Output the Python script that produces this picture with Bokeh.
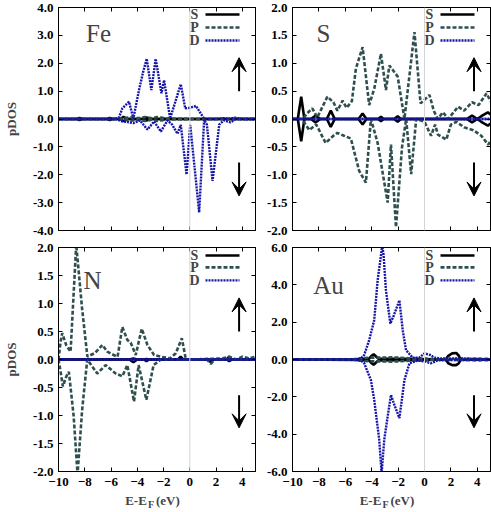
from bokeh.plotting import figure
from bokeh.layouts import gridplot
from bokeh.models import (Range1d, LinearAxis, FixedTicker, PrintfTickFormatter,
                          Span, Label, Arrow, VeeHead)
from bokeh.embed import file_html
from bokeh.resources import INLINE

FONT = "Liberation Serif"
C_S, C_P, C_D = "#000000", "#2f4f4f", "#1414a8"
X_MIN, X_MAX = -10, 5
E_TICKS = [-10, -8, -6, -4, -2, 0, 2, 4]
X_LABEL_MAIN = "E-E\u2002\u2009(eV)\u2002\u2009"
X_LABEL_SUB = "F\u2003\u2009"

# ---------------- Fe ----------------
fe_yticks = [-4, -3, -2, -1, 0, 1, 2, 3, 4]
fe_s_e = [-10, -8.6, -8.4, -8.2, -6.3, -6.1, -5.9, -5.3, -5.05, -4.8, -3.5, -3.3, -3.1, -2.3, -2.1, -1.9, 5.0]
fe_s_up = [0, 0, 0.04, 0, 0, 0.04, 0, 0, 0.08, 0, 0, 0.06, 0, 0, 0.04, 0, 0]
fe_s_dn = [0, 0, -0.04, 0, 0, -0.04, 0, 0, -0.08, 0, 0, -0.06, 0, 0, -0.04, 0, 0]
fe_p_e = [-10, -5.5, -5.0, -4.5, -3.9, -3.4, -2.9, -2.5, -2.1, -1.6, -1.0, 0.0, 5.0]
fe_p_up = [0, 0, 0.03, 0.06, 0.03, 0.07, 0.03, 0.07, 0.04, 0.02, 0.01, 0.0, 0.0]
fe_p_dn = [0, 0, -0.03, -0.06, -0.03, -0.07, -0.03, -0.07, -0.04, -0.02, -0.01, 0.0, 0.0]
fe_d_up_e = [-10, -5.7, -5.4, -5.14, -4.63, -4.3, -3.87, -3.55, -3.28, -2.93, -2.6, -2.16, -1.96,
             -1.5, -0.69, -0.35, 0.0, 0.46, 1.1, 2.0, 2.6, 3.0, 3.4, 4.0, 5.0]
fe_d_up = [0, 0, 0.05, 0.38, 0.62, 0.02, 1.04, 1.7, 2.16, 1.04, 2.16, 0.92, 1.39,
           0.02, 1.25, 0.38, 0.4, 0.47, 0.0, 0.0, 0.03, 0.0, 0.05, 0.0, 0.0]
fe_d_dn_e = [-10, -5.6, -5.2, -4.8, -4.3, -3.8, -3.23, -2.72, -2.21, -1.7, -1.35, -0.94, -0.69,
             -0.25, 0.03, 0.71, 1.09, 1.3, 1.73, 2.24, 2.6, 3.1, 3.5, 5.0]
fe_d_dn = [0, 0, -0.08, -0.1, -0.15, -0.05, -0.38, -0.09, -0.45, -0.05, -0.2, -0.53, -0.21,
           -1.99, -0.21, -3.35, -0.03, -0.2, -2.22, -0.2, -0.05, -0.12, 0.0, 0.0]

# ---------------- S ----------------
s_yticks = [-2, -1.5, -1, -0.5, 0, 0.5, 1, 1.5, 2]
s_s_e = [-10, -9.6, -9.34, -9.1, -8.6, -8.25, -7.9, -7.4, -7.1, -6.8, -5.0, -4.69, -4.4,
         -3.5, -3.3, -3.1, -2.3, -2.03, -1.8, 3.2, 3.6, 4.0, 4.3, 4.8, 5.0]
s_s_up = [0, 0, 0.4, 0, 0, 0.06, 0, 0, 0.15, 0, 0, 0.1, 0, 0, 0.04, 0, 0, 0.05, 0, 0, 0.06, 0, 0.05, 0.12, 0.08]
s_s_dn = [0, 0, -0.4, 0, 0, -0.06, 0, 0, -0.14, 0, 0, -0.1, 0, 0, -0.04, 0, 0, -0.05, 0, 0, -0.06, 0, -0.05, -0.12, -0.08]
s_p_up_e = [-10, -9.2, -8.9, -8.5, -8.12, -7.36, -6.9, -6.6, -6.2, -5.9, -5.5, -5.2, -4.69, -4.19,
            -3.8, -3.3, -2.92, -2.66, -2.03, -1.52, -0.76, -0.3, 0.38, 0.7, 1.0, 1.4, 1.8, 2.54,
            3.0, 3.6, 4.1, 4.7, 5.0]
s_p_up = [0, 0, 0.1, 0.19, 0.03, 0.4, 0.3, 0.15, 0.33, 0.2, 0.32, 0.9, 1.29, 0.25,
          0.55, 1.17, 0.52, 0.96, 0.76, 0.0, 1.56, 0.28, 0.43, 0.15, 0.0, 0.12, 0.0, 0.22,
          0.15, 0.3, 0.25, 0.46, 0.32]
s_p_dn_e = [-10, -9.3, -9.0, -8.73, -8.2, -7.49, -6.9, -6.6, -6.1, -5.58, -4.95, -4.44, -4.06,
            -3.55, -2.79, -2.54, -2.16, -1.7, -1.39, -1.01, -0.63, 0.0, 0.5, 0.8, 1.02, 1.65,
            2.0, 2.42, 3.0, 3.7, 4.3, 4.83, 5.0]
s_p_dn = [0, 0, -0.1, -0.2, -0.1, -0.43, -0.3, -0.25, -0.3, -0.35, -0.93, -1.14, 0.0,
          -0.43, -1.5, -0.46, -1.94, -0.5, 0.0, -0.99, 0.0, -0.05, -0.3, -0.1, -0.28, -0.37,
          -0.1, -0.05, -0.15, -0.2, -0.3, -0.46, -0.4]
s_d_e = [-10, 5.0]
s_d_up = [0, 0]
s_d_dn = [0, 0]

# ---------------- N ----------------
n_yticks = [-2, -1.5, -1, -0.5, 0, 0.5, 1, 1.5, 2]
n_s_e = [-10, -4.6, -4.3, -4.0, -3.5, -3.3, -3.1, -0.9, -0.7, -0.5, 1.4, 1.6, 1.8, 2.8, 3.0, 3.2, 5.0]
n_s_up = [0, 0, 0.02, 0, 0, 0.01, 0, 0, 0.05, 0, 0, 0.0, 0, 0, 0.05, 0, 0]
n_s_dn = [0, 0, -0.05, 0, 0, -0.03, 0, 0, 0.0, 0, 0, -0.05, 0, 0, -0.03, 0, 0]
n_p_up_e = [-10, -9.85, -9.72, -9.4, -9.08, -8.65, -8.2, -7.8, -7.2, -6.66, -6.28, -5.8, -5.5,
            -5.14, -4.76, -4.5, -4.12, -3.66, -3.23, -2.72, -2.2, -1.5, -1.07, -0.61, -0.3,
            0.2, 2.5, 3.0, 3.5, 4.0, 4.5, 5.0]
n_p_up = [0, 0.3, 0.47, 0.25, 0.14, 2.05, 0.9, 0.05, 0.12, 0.26, 0.14, 0.08, 0.05,
          0.58, 0.35, 0.3, 0.08, 0.55, 0.26, 0.08, 0.05, 0.02, 0.11, 0.38, 0.0,
          0.0, 0.02, 0.05, 0.0, 0.05, 0.02, 0.05]
n_p_dn_e = [-10, -9.85, -9.67, -9.4, -9.21, -8.85, -8.55, -8.2, -7.81, -7.05, -6.41, -5.65,
            -5.14, -4.76, -4.25, -3.9, -3.31, -2.76, -2.2, 1.3, 1.6, 1.9, 5.0]
n_p_dn = [0, -0.2, -0.48, -0.3, -0.22, -1.0, -2.05, -0.9, 0.0, -0.25, -0.1, -0.25,
          -0.3, -0.1, -0.75, -0.1, -0.72, -0.1, 0.0, 0.0, -0.08, 0.0, 0.0]
n_d_e = [-10, 5.0]
n_d_up = [0, 0]
n_d_dn = [0, 0]

# ---------------- Au ----------------
au_yticks = [-6, -4, -2, 0, 2, 4, 6]
au_s_e = [-10, -5.0, -4.2, -4.0, -3.85, -3.65, -3.5, -0.5, 1.6, 1.8, 2.1, 2.4, 2.6, 2.75, 5.0]
au_s_up = [0, 0.02, 0.05, 0.2, 0.28, 0.15, 0.05, 0.03, 0.0, 0.2, 0.33, 0.35, 0.2, 0.0, 0.0]
au_s_dn = [0, -0.02, -0.05, -0.2, -0.28, -0.15, -0.05, -0.03, 0.0, -0.2, -0.3, -0.3, -0.2, 0.0, 0.0]
au_p_e = [-10, -5.5, -5.0, -4.5, -4.0, -3.5, -3.0, -2.5, -2.0, -1.5, -1.0, -0.5, 0.0, 0.5, 1.0, 3.0, 4.0, 5.0]
au_p_up = [0, 0, 0.05, 0.08, 0.1, 0.1, 0.1, 0.12, 0.1, 0.08, 0.05, 0.05, 0.05, 0.03, 0.0, 0.03, 0.05, 0.03]
au_p_dn = [0, 0, -0.05, -0.08, -0.1, -0.1, -0.1, -0.12, -0.1, -0.08, -0.05, -0.05, -0.05, -0.03, 0.0, -0.03, -0.05, -0.03]
au_d_up_e = [-10, -5.5, -4.82, -4.57, -4.19, -3.81, -3.55, -3.2, -3.1, -2.92, -2.59, -2.36, -1.9,
             -1.65, -1.4, -0.9, -0.4, 0.0, 0.4, 0.76, 1.2, 2.0, 3.0, 5.0]
au_d_up = [0, 0, 0.05, 0.24, 1.04, 2.1, 4.24, 6.1, 5.6, 3.7, 1.93, 2.3, 3.17,
           1.57, 0.5, 0.1, 0.1, 0.33, 0.25, 0.1, 0.05, 0.05, 0.05, 0.0]
au_d_dn_e = [-10, -5.5, -4.82, -4.57, -4.06, -3.81, -3.43, -3.25, -3.05, -2.79, -2.54, -2.3,
             -1.9, -1.52, -1.14, -0.5, 0.0, 0.5, 1.0, 5.0]
au_d_dn = [0, 0, -0.05, -0.2, -1.1, -2.16, -4.3, -6.1, -4.3, -3.05, -1.9, -2.4,
           -3.14, -1.1, -0.2, -0.05, -0.1, -0.2, -0.05, 0.0]

ORBITALS = ["S", "P", "D"]
STYLE = {
    "S": dict(line_color=C_S, line_width=2.6, line_dash="solid"),
    "P": dict(line_color=C_P, line_width=2.6, line_dash="4 2"),
    "D": dict(line_color=C_D, line_width=2.4, line_dash="2 1"),
}

panels = [
    dict(name="Fe", ylim=4.0, yticks=fe_yticks, col=0, row=0,
         curves={"S": (fe_s_e, fe_s_up, fe_s_e, fe_s_dn),
                 "P": (fe_p_e, fe_p_up, fe_p_e, fe_p_dn),
                 "D": (fe_d_up_e, fe_d_up, fe_d_dn_e, fe_d_dn)}, name_off=(40, 26)),
    dict(name="S", ylim=2.0, yticks=s_yticks, col=1, row=0,
         curves={"S": (s_s_e, s_s_up, s_s_e, s_s_dn),
                 "P": (s_p_up_e, s_p_up, s_p_dn_e, s_p_dn),
                 "D": (s_d_e, s_d_up, s_d_e, s_d_dn)}, name_off=(31, 26)),
    dict(name="N", ylim=2.0, yticks=n_yticks, col=0, row=1,
         curves={"S": (n_s_e, n_s_up, n_s_e, n_s_dn),
                 "P": (n_p_up_e, n_p_up, n_p_dn_e, n_p_dn),
                 "D": (n_d_e, n_d_up, n_d_e, n_d_dn)}, name_off=(34, 33)),
    dict(name="Au", ylim=6.0, yticks=au_yticks, col=1, row=1,
         curves={"S": (au_s_e, au_s_up, au_s_e, au_s_dn),
                 "P": (au_p_e, au_p_up, au_p_e, au_p_dn),
                 "D": (au_d_up_e, au_d_up, au_d_dn_e, au_d_dn)}, name_off=(36, 38)),
]


def style_axis(ax, ticks, labels, fmt=None):
    ax.ticker = FixedTicker(ticks=ticks)
    ax.major_tick_in = 4
    ax.major_tick_out = 0
    ax.minor_tick_line_color = None
    ax.axis_line_color = "black"
    ax.major_tick_line_color = "black"
    if labels:
        ax.major_label_text_font = FONT
        ax.major_label_text_font_style = "bold"
        ax.major_label_text_font_size = "13px"
        ax.major_label_text_color = "black"
        if fmt:
            ax.formatter = PrintfTickFormatter(format=fmt)
    else:
        ax.major_label_text_font_size = "1px"
        ax.major_label_text_color = None
        ax.major_label_standoff = 0


def make_panel(cfg):
    left = cfg["col"] == 0
    top = cfg["row"] == 0
    width = 258 if left else 233
    height = 238 if top else 274
    ml = 58 if left else 34
    mr = 3 if left else 1
    mt = 7 if top else 9
    mb = 8 if top else 40
    fw = width - ml - mr
    fh = height - mt - mb
    ylim = cfg["ylim"]
    p = figure(width=width, height=height, x_range=Range1d(X_MIN, X_MAX),
               y_range=Range1d(-ylim, ylim), output_backend="svg",
               toolbar_location=None, x_axis_type=None, y_axis_type=None,
               min_border_left=ml, min_border_right=mr,
               min_border_top=mt, min_border_bottom=mb)
    p.outline_line_color = "black"
    p.outline_line_width = 1
    p.background_fill_color = "white"
    p.border_fill_color = "white"

    xb = LinearAxis()
    style_axis(xb, E_TICKS, not top)
    p.add_layout(xb, "below")
    if not top:
        xb.major_label_standoff = 6
        xb.axis_label = X_LABEL_MAIN
        xb.axis_label_text_font = FONT
        xb.axis_label_text_font_style = "bold"
        xb.axis_label_text_font_size = "13px"
        xb.axis_label_standoff = 4
        xsub = LinearAxis()
        style_axis(xsub, [], False)
        xsub.major_tick_in = 0
        xsub.axis_line_color = None
        xsub.axis_label = X_LABEL_SUB
        xsub.axis_label_text_font = FONT
        xsub.axis_label_text_font_style = "bold"
        xsub.axis_label_text_font_size = "10px"
        xsub.axis_label_standoff = -12
        p.add_layout(xsub, "below")
    xt = LinearAxis()
    style_axis(xt, E_TICKS, False)
    p.add_layout(xt, "above")
    yl = LinearAxis()
    style_axis(yl, cfg["yticks"], True, "%.1f")
    yl.major_label_standoff = 5
    if left:
        yl.axis_label = "pDOS"
        yl.axis_label_text_font = FONT
        yl.axis_label_text_font_style = "bold"
        yl.axis_label_text_font_size = "13px"
        yl.axis_label_standoff = 11
    p.add_layout(yl, "left")
    yr = LinearAxis()
    style_axis(yr, cfg["yticks"], False)
    p.add_layout(yr, "right")

    p.add_layout(Span(location=0, dimension="height", line_color="#d4d4d4", line_width=1))

    for orb in ORBITALS:
        e_up, v_up, e_dn, v_dn = cfg["curves"][orb]
        p.line(e_up, v_up, **STYLE[orb])
        p.line(e_dn, v_dn, **STYLE[orb])

    xspan = X_MAX - X_MIN
    yspan = 2 * ylim

    def dx(px):  # px offset from frame left
        return X_MIN + px / fw * xspan

    def dy(py):  # py offset from frame top
        return ylim - py / fh * yspan

    # legend
    rows = [7, 20, 33] if top else [8, 20, 33]
    for orb, ry in zip(ORBITALS, rows):
        p.add_layout(Label(x=dx(fw - 61), y=dy(ry), text=orb, text_font=FONT,
                           text_font_style="bold", text_font_size="14px",
                           text_align="center", text_baseline="middle"))
        p.line([dx(fw - 50), dx(fw - 16)], [dy(ry), dy(ry)], **STYLE[orb])

    # element name
    nx, ny = cfg["name_off"]
    p.add_layout(Label(x=dx(nx), y=dy(ny), text=cfg["name"], text_font=FONT,
                       text_font_size="25px", text_align="center", text_baseline="middle"))

    # spin arrows
    up_frac = (0.25, 0.55)
    dn_frac = (-0.39, -0.69) if top else (-0.32, -0.61)
    for f0, f1 in (up_frac, dn_frac):
        p.add_layout(Arrow(end=VeeHead(size=14, fill_color="black", line_color="black"),
                           x_start=3.75, y_start=f0 * ylim, x_end=3.75, y_end=f1 * ylim,
                           line_color="black", line_width=2))
    return p


figs = [make_panel(c) for c in panels]
grid = gridplot([[figs[0], figs[1]], [figs[2], figs[3]]], toolbar_location=None)

open("out.html", "w").write(file_html(grid, INLINE))
